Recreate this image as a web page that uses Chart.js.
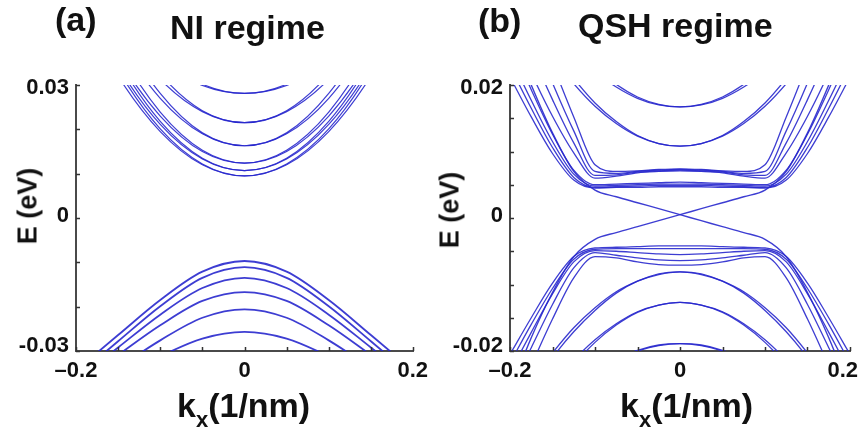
<!DOCTYPE html>
<html>
<head>
<meta charset="utf-8">
<script src="https://cdn.jsdelivr.net/npm/chart.js@4.4.1/dist/chart.umd.min.js"></script>
<style>
  html, body { margin: 0; padding: 0; background: #fff; }
  #wrap { position: relative; width: 860px; height: 429px; overflow: hidden;
          font-family: "Liberation Sans", Arial, sans-serif; font-weight: bold; color: #111; }
  #wrap canvas { position: absolute; top: 0; }
  .lbl { position: absolute; white-space: nowrap; line-height: 1; font-size: 34px; }
  .ylab { position: absolute; white-space: nowrap; line-height: 1; font-size: 27px;
          transform: translate(-50%, -50%) rotate(-90deg); }
  .lbl sub { font-size: 22px; vertical-align: -10px; line-height: 0; }
</style>
</head>
<body>
<div id="wrap">
  <canvas id="ni" width="430" height="429" style="left:0"></canvas>
  <canvas id="qsh" width="430" height="429" style="left:430px"></canvas>

  <div class="lbl" style="left:55px; top:2px">(a)</div>
  <div class="lbl" style="left:170px; top:10px">NI regime</div>
  <div class="lbl" style="left:478px; top:3px">(b)</div>
  <div class="lbl" style="left:578px; top:8px">QSH regime</div>

  <div class="ylab" style="left:28px; top:206px">E (eV)</div>
  <div class="ylab" style="left:450px; top:210px">E (eV)</div>

  <div class="lbl" style="left:177px; top:388px">k<sub>x</sub>(1/nm)</div>
  <div class="lbl" style="left:620px; top:388px">k<sub>x</sub>(1/nm)</div>
</div>

<script>
// ---- (a) normal insulator: subband energies (eV) sampled on niK (1/nm)
const niK = [-0.2, -0.15, -0.1, -0.05, 0, 0.05, 0.1, 0.15, 0.2];

const niConduction = [
  [0.0618, 0.0470, 0.0365, 0.0302, 0.0281, 0.0302, 0.0365, 0.0470, 0.0618],
  [0.0573, 0.0445, 0.0354, 0.0299, 0.0281, 0.0299, 0.0354, 0.0445, 0.0573],
  [0.0655, 0.0462, 0.0325, 0.0242, 0.0215, 0.0242, 0.0325, 0.0462, 0.0655],
  [0.0608, 0.0436, 0.0313, 0.0240, 0.0215, 0.0240, 0.0313, 0.0436, 0.0608],
  [0.0633, 0.0427, 0.0281, 0.0192, 0.0163, 0.0192, 0.0281, 0.0427, 0.0633],
  [0.0592, 0.0404, 0.0270, 0.0190, 0.0163, 0.0190, 0.0270, 0.0404, 0.0592],
  [0.0582, 0.0382, 0.0239, 0.0153, 0.0124, 0.0153, 0.0239, 0.0382, 0.0582],
  [0.0547, 0.0362, 0.0230, 0.0150, 0.0124, 0.0150, 0.0230, 0.0362, 0.0547],
  [0.0550, 0.0356, 0.0218, 0.0135, 0.0107, 0.0135, 0.0218, 0.0356, 0.0550],
  [0.0524, 0.0342, 0.0211, 0.0133, 0.0107, 0.0133, 0.0211, 0.0342, 0.0524],
  [0.0519, 0.0334, 0.0201, 0.0122, 0.0095, 0.0122, 0.0201, 0.0334, 0.0519],
  [0.0496, 0.0320, 0.0195, 0.0120, 0.0095, 0.0120, 0.0195, 0.0320, 0.0496]
];

const niValence = [
  [-0.0344, -0.0264, -0.0185, -0.0121, -0.0097, -0.0121, -0.0185, -0.0264, -0.0344],
  [-0.0358, -0.0278, -0.0199, -0.0135, -0.0111, -0.0135, -0.0199, -0.0278, -0.0358],
  [-0.0367, -0.0292, -0.0218, -0.0158, -0.0135, -0.0158, -0.0218, -0.0292, -0.0367],
  [-0.0377, -0.0309, -0.0242, -0.0187, -0.0167, -0.0187, -0.0242, -0.0309, -0.0377],
  [-0.0400, -0.0338, -0.0276, -0.0225, -0.0206, -0.0225, -0.0276, -0.0338, -0.0400],
  [-0.0410, -0.0360, -0.0312, -0.0272, -0.0257, -0.0272, -0.0312, -0.0360, -0.0410]
];

const niTickValuesX = [-0.2, 0, 0.2];
const niTickTextX = ['\u20130.2', '0', '0.2'];
const niTickValuesY = [0.03, 0, -0.03];
const niTickTextY = ['0.03', '0', '-0.03'];

// ---- (b) quantum spin Hall: bulk subbands plus the crossing edge states
const qshK = [-0.2, -0.175, -0.15, -0.125, -0.1, -0.075, -0.05, -0.025, 0,
              0.025, 0.05, 0.075, 0.1, 0.125, 0.15, 0.175, 0.2];

const qshConduction = [
  [0.0407, 0.0351, 0.0302, 0.0261, 0.0227, 0.0201, 0.0182, 0.0171, 0.0167, 0.0171, 0.0182, 0.0201, 0.0227, 0.0261, 0.0302, 0.0351, 0.0407],
  [0.0379, 0.0329, 0.0286, 0.0250, 0.0220, 0.0197, 0.0180, 0.0170, 0.0167, 0.0170, 0.0180, 0.0197, 0.0220, 0.0250, 0.0286, 0.0329, 0.0379],
  [0.0368, 0.0307, 0.0254, 0.0210, 0.0173, 0.0145, 0.0124, 0.0112, 0.0108, 0.0112, 0.0124, 0.0145, 0.0173, 0.0210, 0.0254, 0.0307, 0.0368],
  [0.0348, 0.0292, 0.0243, 0.0202, 0.0168, 0.0142, 0.0123, 0.0112, 0.0108, 0.0112, 0.0123, 0.0142, 0.0168, 0.0202, 0.0243, 0.0292, 0.0348],
  [0.0212, 0.0152, 0.0097, 0.0057, 0.0045, 0.0046, 0.0046, 0.0047, 0.0047, 0.0047, 0.0046, 0.0046, 0.0045, 0.0057, 0.0097, 0.0152, 0.0212],
  [0.0228, 0.0165, 0.0106, 0.0061, 0.0046, 0.0047, 0.0048, 0.0049, 0.0049, 0.0049, 0.0048, 0.0047, 0.0046, 0.0061, 0.0106, 0.0165, 0.0228],
  [0.0243, 0.0177, 0.0115, 0.0066, 0.0048, 0.0049, 0.0050, 0.0051, 0.0051, 0.0051, 0.0050, 0.0049, 0.0048, 0.0066, 0.0115, 0.0177, 0.0243],
  [0.0265, 0.0193, 0.0126, 0.0072, 0.0050, 0.0051, 0.0052, 0.0053, 0.0054, 0.0053, 0.0052, 0.0051, 0.0050, 0.0072, 0.0126, 0.0193, 0.0265],
  [0.0290, 0.0218, 0.0153, 0.0098, 0.0060, 0.0063, 0.0068, 0.0070, 0.0071, 0.0070, 0.0068, 0.0063, 0.0060, 0.0098, 0.0153, 0.0218, 0.0290],
  [0.0330, 0.0250, 0.0178, 0.0113, 0.0064, 0.0065, 0.0069, 0.0071, 0.0072, 0.0071, 0.0069, 0.0065, 0.0064, 0.0113, 0.0178, 0.0250, 0.0330],
  [0.0370, 0.0282, 0.0203, 0.0131, 0.0070, 0.0067, 0.0070, 0.0072, 0.0073, 0.0072, 0.0070, 0.0067, 0.0070, 0.0131, 0.0203, 0.0282, 0.0370],
  [0.0410, 0.0315, 0.0232, 0.0152, 0.0080, 0.0070, 0.0071, 0.0073, 0.0074, 0.0073, 0.0071, 0.0070, 0.0080, 0.0152, 0.0232, 0.0315, 0.0410]
];

const qshEdge = [
  [0.0280, 0.0200, 0.0128, 0.0070, 0.0042, 0.0032, 0.0023, 0.0014, 0.0005, -0.0004, -0.0013, -0.0022, -0.0032, -0.0058, -0.0112, -0.0180, -0.0260],
  [-0.0260, -0.0180, -0.0112, -0.0058, -0.0032, -0.0022, -0.0013, -0.0004, 0.0005, 0.0014, 0.0023, 0.0032, 0.0042, 0.0070, 0.0128, 0.0200, 0.0280]
];

const qshValence = [
  [-0.0365, -0.0324, -0.0288, -0.0258, -0.0233, -0.0214, -0.0200, -0.0192, -0.0189, -0.0192, -0.0200, -0.0214, -0.0233, -0.0258, -0.0288, -0.0324, -0.0365],
  [-0.0349, -0.0312, -0.0279, -0.0252, -0.0229, -0.0212, -0.0199, -0.0191, -0.0189, -0.0191, -0.0199, -0.0212, -0.0229, -0.0252, -0.0279, -0.0312, -0.0349],
  [-0.0367, -0.0311, -0.0262, -0.0221, -0.0187, -0.0161, -0.0142, -0.0131, -0.0127, -0.0131, -0.0142, -0.0161, -0.0187, -0.0221, -0.0262, -0.0311, -0.0367],
  [-0.0351, -0.0298, -0.0253, -0.0214, -0.0183, -0.0159, -0.0141, -0.0131, -0.0127, -0.0131, -0.0141, -0.0159, -0.0183, -0.0214, -0.0253, -0.0298, -0.0351],
  [-0.0311, -0.0257, -0.0210, -0.0171, -0.0139, -0.0113, -0.0095, -0.0085, -0.0081, -0.0085, -0.0095, -0.0113, -0.0139, -0.0171, -0.0210, -0.0257, -0.0311],
  [-0.0297, -0.0246, -0.0203, -0.0165, -0.0135, -0.0111, -0.0095, -0.0084, -0.0081, -0.0084, -0.0095, -0.0111, -0.0135, -0.0165, -0.0203, -0.0246, -0.0297],
  [-0.0205, -0.0150, -0.0098, -0.0058, -0.0045, -0.0044, -0.0043, -0.0042, -0.0042, -0.0042, -0.0043, -0.0044, -0.0045, -0.0058, -0.0098, -0.0150, -0.0205],
  [-0.0218, -0.0160, -0.0106, -0.0062, -0.0047, -0.0046, -0.0046, -0.0046, -0.0046, -0.0046, -0.0046, -0.0046, -0.0047, -0.0062, -0.0106, -0.0160, -0.0218],
  [-0.0232, -0.0172, -0.0114, -0.0066, -0.0049, -0.0050, -0.0052, -0.0054, -0.0055, -0.0054, -0.0052, -0.0050, -0.0049, -0.0066, -0.0114, -0.0172, -0.0232],
  [-0.0260, -0.0195, -0.0130, -0.0075, -0.0052, -0.0056, -0.0060, -0.0063, -0.0064, -0.0063, -0.0060, -0.0056, -0.0052, -0.0075, -0.0130, -0.0195, -0.0260],
  [-0.0295, -0.0222, -0.0152, -0.0090, -0.0058, -0.0060, -0.0066, -0.0070, -0.0071, -0.0070, -0.0066, -0.0060, -0.0058, -0.0090, -0.0152, -0.0222, -0.0295]
];

const qshTickValuesX = [-0.2, 0, 0.2];
const qshTickTextX = ['\u20130.2', '0', '0.2'];
const qshTickValuesY = [0.02, 0, -0.02];
const qshTickTextY = ['0.02', '0', '-0.02'];

const LINE_BLUE = 'rgba(40, 40, 205, 0.9)';

// inward tick marks and the few labelled tick values
const axisDecor = {
  id: 'axisDecor',
  afterDraw(chart, args, opts) {
    const { ctx, chartArea: area, scales: { x, y } } = chart;
    ctx.save();
    ctx.strokeStyle = '#333';
    ctx.lineWidth = 1.5;
    ctx.beginPath();
    x.ticks.forEach(t => {
      const px = Math.round(x.getPixelForValue(t.value)) + 0.5;
      ctx.moveTo(px, area.bottom);
      ctx.lineTo(px, area.bottom - 4);
    });
    y.ticks.forEach(t => {
      const py = Math.round(y.getPixelForValue(t.value)) + 0.5;
      ctx.moveTo(area.left, py);
      ctx.lineTo(area.left + 4, py);
    });
    ctx.stroke();

    ctx.fillStyle = '#111';
    ctx.font = 'bold 22px "Liberation Sans", Arial, sans-serif';
    ctx.textBaseline = 'alphabetic';

    ctx.textAlign = 'center';
    opts.xValues.forEach((v, i) => {
      const text = opts.xText[i];
      const half = ctx.measureText(text).width / 2;
      let cx = x.getPixelForValue(v);
      if (cx + half > chart.width - 2) cx = chart.width - 2 - half;
      ctx.fillText(text, cx, area.bottom + 26);
    });

    ctx.textAlign = 'right';
    opts.yValues.forEach((v, i) => {
      const py = y.getPixelForValue(v);
      const shift = v === y.max ? 9 : v === y.min ? 1 : 4;
      ctx.fillText(opts.yText[i], area.left - 7, py + shift);
    });
    ctx.restore();
  }
};

const bandSet = (ks, bands, width) => bands.map(vals => ({
  data: vals.map((e, i) => ({ x: ks[i], y: e })),
  showLine: true,
  borderColor: LINE_BLUE,
  borderWidth: width,
  pointRadius: 0,
  cubicInterpolationMode: 'monotone'
}));

const makeBandChart = (canvasId, datasets, yRange, yStep, padding, decor) => {
  new Chart(document.getElementById(canvasId), {
    type: 'scatter',
    data: { datasets },
    options: {
      responsive: false,
      animation: false,
      devicePixelRatio: 1,
      layout: { padding },
      plugins: { legend: { display: false }, tooltip: { enabled: false }, axisDecor: decor },
      scales: {
        x: {
          type: 'linear', min: -0.2, max: 0.2,
          ticks: { display: false, stepSize: 0.05 },
          grid: { drawOnChartArea: false, drawTicks: false },
          border: { display: true, color: '#4a4a4a', width: 2 },
          afterFit: s => { s.height = 0; }
        },
        y: {
          type: 'linear', min: -yRange, max: yRange,
          ticks: { display: false, stepSize: yStep },
          grid: { drawOnChartArea: false, drawTicks: false },
          border: { display: true, color: '#4a4a4a', width: 2 },
          afterFit: s => { s.width = 0; }
        }
      }
    },
    plugins: [axisDecor]
  });
};

makeBandChart('ni',
  [...bandSet(niK, niConduction, 1.2), ...bandSet(niK, niValence, 1.8)],
  0.03, 0.01,
  { left: 76, right: 17, top: 85, bottom: 78 },
  { xValues: niTickValuesX, xText: niTickTextX, yValues: niTickValuesY, yText: niTickTextY });

makeBandChart('qsh',
  [...bandSet(qshK, qshConduction, 1.3), ...bandSet(qshK, qshEdge, 1.4), ...bandSet(qshK, qshValence, 1.3)],
  0.02, 0.005,
  { left: 80, right: 10, top: 85, bottom: 78 },
  { xValues: qshTickValuesX, xText: qshTickTextX, yValues: qshTickValuesY, yText: qshTickTextY });
</script>
</body>
</html>
